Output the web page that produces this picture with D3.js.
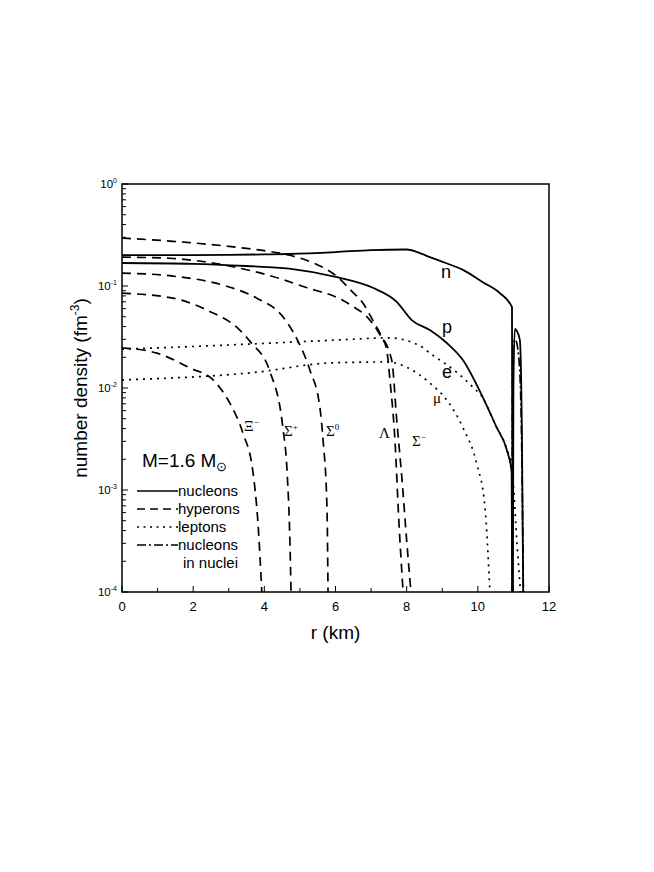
<!DOCTYPE html>
<html>
<head>
<meta charset="utf-8">
<script src="https://cdn.jsdelivr.net/npm/d3@7"></script>
<style>
  body { margin: 0; background: #fff; }
  svg { display: block; }
  text { font-family: "Liberation Sans", Arial, sans-serif; fill: #000; }
  .greek { font-family: "Liberation Serif", "Times New Roman", serif; }
</style>
</head>
<body>
<svg id="chart" width="654" height="872"></svg>
<script>
// radius (km) / number density (fm^-3)
const nR = [0, 1, 2, 3, 4, 4.7, 6, 7, 8, 8.3, 8.65, 9.1, 9.58, 10.14, 10.62, 10.96, 10.975]
const nD = [0.201, 0.201, 0.201, 0.202, 0.204, 0.206, 0.215, 0.225, 0.228, 0.215, 0.192, 0.168, 0.144, 0.109, 0.085, 0.062, 0.0001]

const pR = [0, 2, 3.5, 4.7, 6.04, 7.05, 7.72, 8.15, 8.65, 9.13, 9.58, 10.14, 10.53, 10.81, 10.95, 10.965]
const pD = [0.168, 0.165, 0.157, 0.148, 0.122, 0.096, 0.07, 0.046, 0.037, 0.0276, 0.0188, 0.0081, 0.0041, 0.0025, 0.0015, 0.0001]

// free neutrons just outside the core
const gasR = [10.985, 11.0, 11.04, 11.1, 11.18, 11.24, 11.275]
const gasD = [0.0001, 0.01, 0.038, 0.036, 0.0296, 0.0031, 0.0001]

const lamR = [0, 1.91, 3.31, 4.0, 4.72, 5.2, 5.65, 6.07, 6.4, 6.77, 7.05, 7.3, 7.44, 7.53, 7.67, 7.78, 7.9]
const lamD = [0.295, 0.266, 0.238, 0.222, 0.2, 0.178, 0.152, 0.122, 0.093, 0.068, 0.046, 0.0316, 0.0236, 0.012, 0.0031, 0.0005, 0.0001]

const smR = [0, 1.43, 2.84, 4.24, 5.2, 6.12, 6.49, 6.88, 7.19, 7.58, 7.72, 7.87, 8.0, 8.12]
const smD = [0.192, 0.186, 0.161, 0.124, 0.096, 0.075, 0.063, 0.05, 0.036, 0.0187, 0.0049, 0.00125, 0.00032, 0.0001]

const s0R = [0, 1.43, 2.84, 3.79, 4.52, 4.92, 5.28, 5.56, 5.65, 5.76, 5.79]
const s0D = [0.134, 0.125, 0.102, 0.076, 0.05, 0.03, 0.015, 0.0065, 0.0031, 0.00068, 0.0001]

const spR = [0, 1.43, 2.39, 3.31, 3.62, 4.16, 4.52, 4.64, 4.72, 4.75]
const spD = [0.085, 0.076, 0.058, 0.037, 0.028, 0.0144, 0.0041, 0.0015, 0.0003, 0.0001]

const xiR = [0, 0.98, 1.91, 2.56, 3.03, 3.4, 3.68, 3.82, 3.93]
const xiD = [0.0247, 0.022, 0.0157, 0.012, 0.0071, 0.0036, 0.0015, 0.00048, 0.0001]

const eR = [0, 3, 6.1, 7.5, 8.37, 8.65, 9.4, 9.86, 10.14, 10.5, 10.8, 10.96, 11.0, 11.1, 11.2]
const eD = [0.024, 0.0264, 0.0296, 0.031, 0.026, 0.022, 0.0143, 0.0102, 0.008, 0.0043, 0.0026, 0.0016, 0.0011, 0.0003, 0.0001]

const muR = [0, 3.79, 5.84, 7.44, 8.0, 8.65, 9.13, 9.58, 9.97, 10.2, 10.34]
const muD = [0.012, 0.0143, 0.0176, 0.018, 0.016, 0.0112, 0.0076, 0.0041, 0.0018, 0.00068, 0.0001]

const nucR = [10.965, 10.97, 10.98, 11.05, 11.15, 11.22, 11.28]
const nucD = [0.0001, 0.005, 0.025, 0.03, 0.02, 0.005, 0.0001]

const xTicks = [0, 2, 4, 6, 8, 10, 12]
const yDecades = [-4, -3, -2, -1, 0]

const svg = d3.select('#chart')

const x = d3.scaleLinear().domain([0, 12]).range([122, 549])
const y = d3.scaleLog().domain([1e-4, 1]).range([592, 184])

svg.append('clipPath').attr('id', 'plotclip')
  .append('rect')
  .attr('x', x(0)).attr('y', y(1))
  .attr('width', x(12) - x(0)).attr('height', y(1e-4) - y(1))

const line = d3.line()
  .x(d => x(d[0]))
  .y(d => y(d[1]))
  .curve(d3.curveMonotoneX)

const styles = {
  solid: null,
  dashed: '9,6',
  dotted: '2,5',
  dashdot: '9,3,2,3'
}

const series = [
  { r: nR, d: nD, style: 'solid' },
  { r: pR, d: pD, style: 'solid' },
  { r: gasR, d: gasD, style: 'solid' },
  { r: lamR, d: lamD, style: 'dashed' },
  { r: smR, d: smD, style: 'dashed' },
  { r: s0R, d: s0D, style: 'dashed' },
  { r: spR, d: spD, style: 'dashed' },
  { r: xiR, d: xiD, style: 'dashed' },
  { r: eR, d: eD, style: 'dotted' },
  { r: muR, d: muD, style: 'dotted' },
  { r: nucR, d: nucD, style: 'dashdot' }
]

const curves = svg.append('g').attr('clip-path', 'url(#plotclip)')
series.forEach(s => {
  curves.append('path')
    .datum(s.r.map((r, i) => [r, s.d[i]]))
    .attr('d', line)
    .attr('fill', 'none')
    .attr('stroke', '#000')
    .attr('stroke-width', s.style === 'solid' ? 1.8 : 1.7)
    .attr('stroke-dasharray', styles[s.style])
})

// frame
svg.append('rect')
  .attr('x', x(0)).attr('y', y(1))
  .attr('width', x(12) - x(0)).attr('height', y(1e-4) - y(1))
  .attr('fill', 'none').attr('stroke', '#000').attr('stroke-width', 1.5)

// x axis, ticks pointing inward
const xAxis = svg.append('g').attr('transform', `translate(0,${y(1e-4)})`)
d3.range(0, 13).forEach(v => {
  xAxis.append('line')
    .attr('x1', x(v)).attr('x2', x(v))
    .attr('y1', 0).attr('y2', v % 2 === 0 ? -6 : -4)
    .attr('stroke', '#000').attr('stroke-width', 1)
})
xAxis.selectAll('text.tick')
  .data(xTicks)
  .enter().append('text')
  .attr('x', d => x(d)).attr('y', 19)
  .attr('text-anchor', 'middle')
  .attr('font-size', 13)
  .text(d => d)

// y axis (log), ticks pointing inward
const yAxis = svg.append('g').attr('transform', `translate(${x(0)},0)`)
yDecades.forEach(e => {
  yAxis.append('line')
    .attr('x1', 0).attr('x2', 6)
    .attr('y1', y(Math.pow(10, e))).attr('y2', y(Math.pow(10, e)))
    .attr('stroke', '#000')
  if (e < 0) {
    d3.range(2, 10).forEach(m => {
      const v = m * Math.pow(10, e)
      yAxis.append('line')
        .attr('x1', 0).attr('x2', 4)
        .attr('y1', y(v)).attr('y2', y(v))
        .attr('stroke', '#000')
    })
  }
  const t = yAxis.append('text')
    .attr('x', -5).attr('y', y(Math.pow(10, e)) + 4)
    .attr('text-anchor', 'end')
    .attr('font-size', 11.5)
  t.append('tspan').text('10')
  t.append('tspan').attr('dy', -5).attr('font-size', 7).text(e === 0 ? '0' : '-' + (-e))
})

// axis titles
svg.append('text')
  .attr('x', (x(0) + x(12)) / 2).attr('y', 639)
  .attr('text-anchor', 'middle').attr('font-size', 19)
  .text('r (km)')

const yTitle = svg.append('text')
  .attr('transform', `translate(87,${(y(1) + y(1e-4)) / 2}) rotate(-90)`)
  .attr('text-anchor', 'middle').attr('font-size', 19)
yTitle.append('tspan').text('number density (fm')
yTitle.append('tspan').attr('dy', -8).attr('font-size', 12).text('-3')
yTitle.append('tspan').attr('dy', 8).text(')')

// curve labels
const sansLabels = [['n', 441, 278], ['p', 442, 333], ['e', 442, 378]]
sansLabels.forEach(([t, lx, ly]) => {
  svg.append('text').attr('x', lx).attr('y', ly).attr('font-size', 18).text(t)
})

const greekLabels = [
  ['\u039E', '\u2212', 244, 431],
  ['\u03A3', '+', 284, 436],
  ['\u03A3', '0', 326, 436],
  ['\u039B', '', 379, 438],
  ['\u03A3', '\u2212', 412, 446],
  ['\u03BC', '', 433, 403]
]
greekLabels.forEach(([g, sup, lx, ly]) => {
  const t = svg.append('text').attr('class', 'greek')
    .attr('x', lx).attr('y', ly).attr('font-size', 15)
  t.append('tspan').text(g)
  if (sup) t.append('tspan').attr('dy', -6).attr('font-size', 9).text(sup)
})

// mass annotation
const mass = svg.append('text').attr('x', 142).attr('y', 467).attr('font-size', 19)
mass.append('tspan').text('M=1.6 M')
mass.append('tspan').attr('dy', 4).attr('font-size', 13).text('\u2299')

// legend
const legendItems = [
  { label: 'nucleons', style: 'solid', yy: 491 },
  { label: 'hyperons', style: 'dashed', yy: 509 },
  { label: 'leptons', style: 'dotted', yy: 527 },
  { label: 'nucleons', style: 'dashdot', yy: 545 }
]
const legend = svg.append('g')
legendItems.forEach(it => {
  legend.append('line')
    .attr('x1', 137).attr('x2', 178)
    .attr('y1', it.yy).attr('y2', it.yy)
    .attr('stroke', '#000').attr('stroke-width', 1.7)
    .attr('stroke-dasharray', it.style === 'dashed' ? '8,5' : it.style === 'dotted' ? '2,4.5' : styles[it.style])
  legend.append('text')
    .attr('x', 178).attr('y', it.yy + 5)
    .attr('font-size', 15)
    .text(it.label)
})
legend.append('text').attr('x', 183).attr('y', 568).attr('font-size', 15).text('in nuclei')
</script>
</body>
</html>
